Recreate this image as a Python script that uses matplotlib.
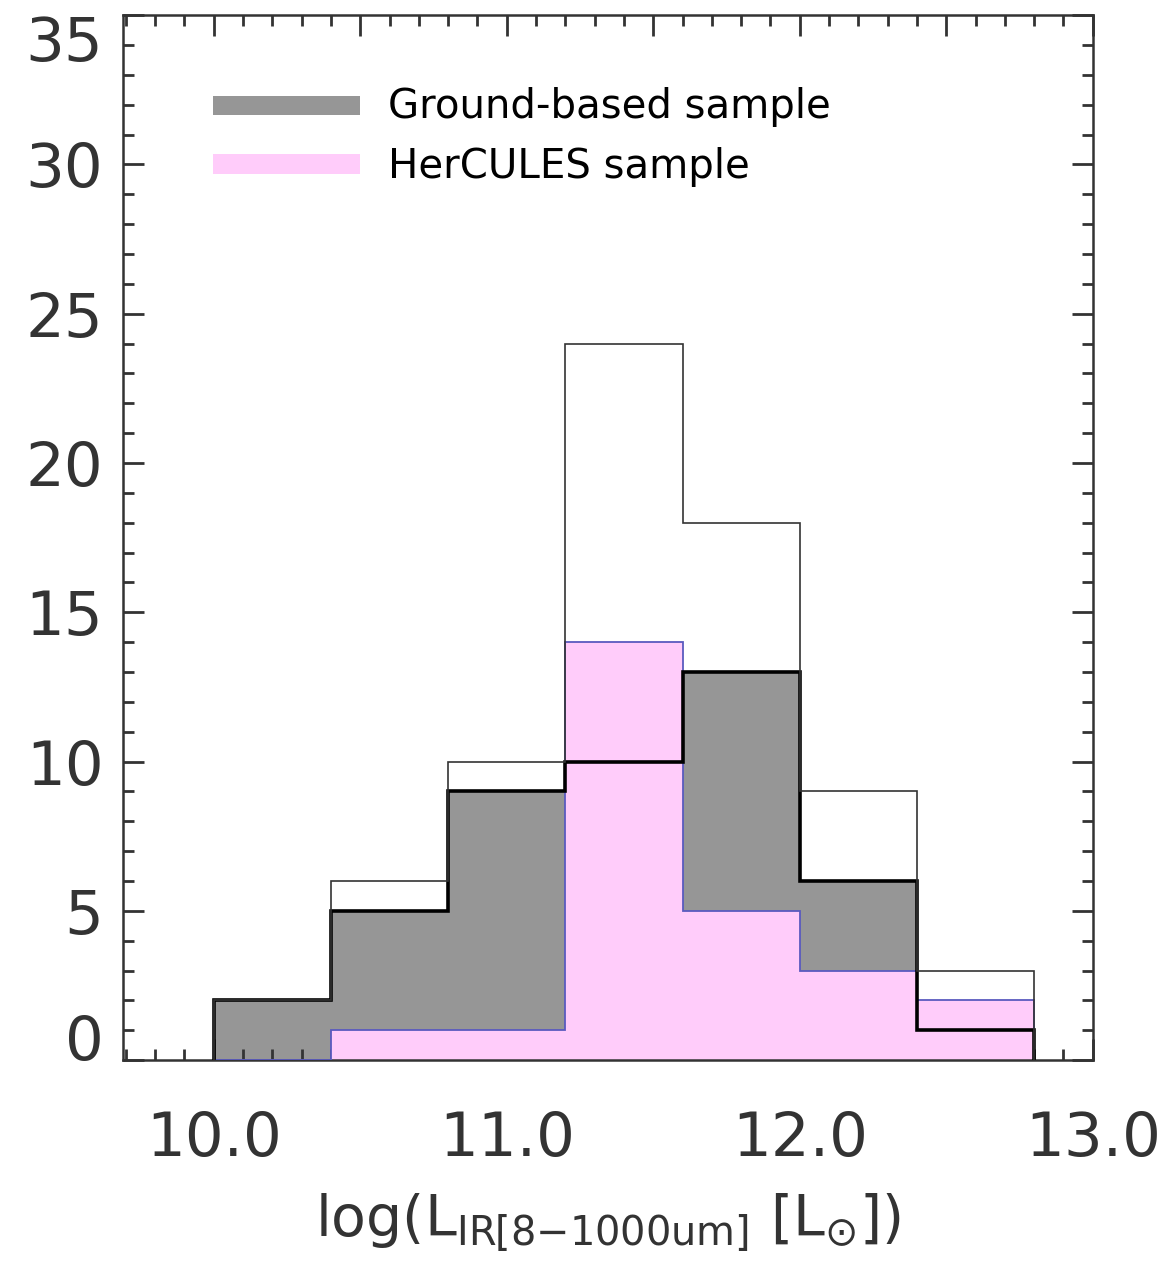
import numpy as np
import matplotlib
matplotlib.use("Agg")
import matplotlib.pyplot as plt
from matplotlib.ticker import MultipleLocator, FixedLocator, FuncFormatter
from matplotlib.patches import Rectangle

# ---- data ----
bin_edges = [10.0, 10.4, 10.8, 11.2, 11.6, 12.0, 12.4, 12.8]
ground_counts = [2, 5, 9, 10, 13, 6, 1]
hercules_counts = [0, 1, 1, 14, 5, 3, 2]
total_counts = [g + h for g, h in zip(ground_counts, hercules_counts)]
x_tick_labels = ["10.0", "11.0", "12.0", "13.0"]
y_tick_labels = ["0", "5", "10", "15", "20", "25", "30", "35"]
legend_labels = ["Ground-based sample", "HerCULES sample"]

grey = "#969696"
pink = "#FFCCFA"
blue = "#5A5ABF"
ink = "#333333"

plt.rcParams['font.family'] = ['DejaVu Sans']
fig = plt.figure(figsize=(11.7, 12.62), dpi=100)
ax = fig.add_axes([0.105, 0.160, 0.829, 0.828])

ax.stairs(ground_counts, bin_edges, fill=True, color=grey, lw=0, zorder=1)
ax.stairs(hercules_counts, bin_edges, fill=True, color=pink, lw=0, zorder=2)
ax.stairs(hercules_counts, bin_edges, baseline=0, fill=False, color=blue, lw=1.3, zorder=3)
ax.stairs(ground_counts, bin_edges, baseline=0, fill=False, color="black", lw=2.6, zorder=4)
ax.stairs(total_counts, bin_edges, baseline=0, fill=False, color=ink, lw=1.2, zorder=5)

ax.set_xlim(9.69, 13.0)
ax.set_ylim(0, 35)

xt = [10.0, 11.0, 12.0, 13.0]
ax.xaxis.set_major_locator(MultipleLocator(0.5))
ax.xaxis.set_major_formatter(FuncFormatter(
    lambda v, p: x_tick_labels[xt.index(round(v, 1))] if round(v, 1) in xt else ""))
ax.xaxis.set_minor_locator(MultipleLocator(0.1))
ax.yaxis.set_major_locator(FixedLocator([0, 5, 10, 15, 20, 25, 30, 35]))
ax.set_yticklabels(y_tick_labels)
ax.yaxis.set_minor_locator(MultipleLocator(1))

ax.tick_params(which='both', direction='in', top=True, right=True, color=ink,
               labelcolor=ink)
ax.tick_params(which='major', length=15, width=2.0, labelsize=44)
ax.tick_params(which='minor', length=8, width=2.0)
ax.tick_params(axis='x', which='major', pad=36)
ax.tick_params(axis='y', which='major', pad=14)

ylabs = ax.get_yticklabels()
ylabs[0].set_verticalalignment('baseline')
ylabs[-1].set_verticalalignment('top')

for s in ax.spines.values():
    s.set_color(ink)
    s.set_linewidth(1.8)

ax.set_xlabel(r'log(L$_{\mathregular{IR[8{-}1000um]}}$ [L$_{\odot}$])', fontsize=41,
              color=ink, labelpad=16)

# legend
ax.add_patch(Rectangle((0.093, 0.904), 0.151, 0.019, transform=ax.transAxes,
                       facecolor=grey, edgecolor='none', zorder=6))
ax.add_patch(Rectangle((0.093, 0.848), 0.151, 0.019, transform=ax.transAxes,
                       facecolor=pink, edgecolor='none', zorder=6))
ax.text(0.273, 0.912, legend_labels[0], transform=ax.transAxes, fontsize=29,
        color="black", va='center', ha='left')
ax.text(0.273, 0.855, legend_labels[1], transform=ax.transAxes, fontsize=29,
        color="black", va='center', ha='left')

fig.savefig("out.png", dpi=100)
